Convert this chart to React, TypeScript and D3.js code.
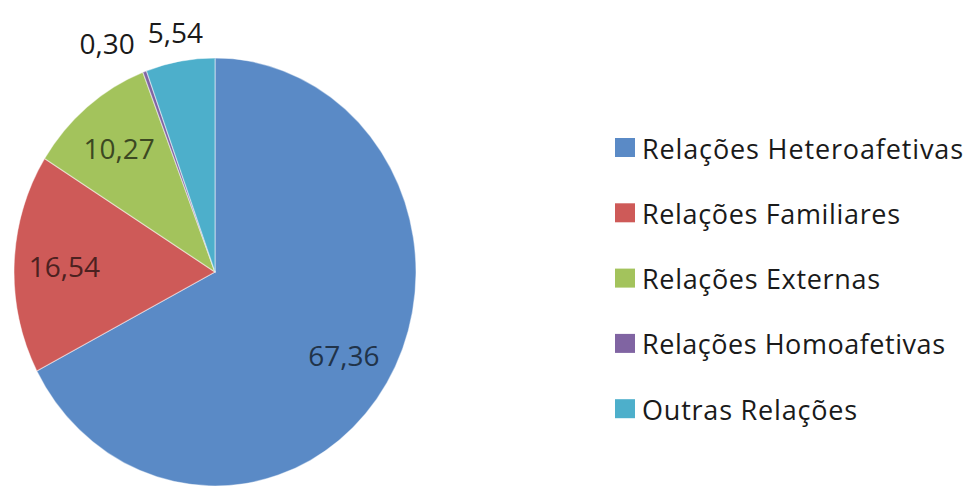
import React from "react";
import * as d3 from "d3";

// Distribution of relationship types (%)
const categories = [
  "Relações Heteroafetivas",
  "Relações Familiares",
  "Relações Externas",
  "Relações Homoafetivas",
  "Outras Relações",
];
const values = [67.36, 16.54, 10.27, 0.3, 5.54];
const valueLabels = ["67,36", "16,54", "10,27", "0,30", "5,54"];
const colors = ["#5A8AC6", "#CE5A58", "#A3C35C", "#8064A2", "#4DAFCB"];

const W = 967;
const H = 489;
const cx = 215;
const cy = 272;
const rx = 201;
const ry = 214;

const legendX = 615;
const legendY0 = 148;
const legendStep = 65.3;
const legendWidths = [321, 258, 238, 303, 215];

export default function App() {
  const pie = d3
    .pie<number>()
    .sort(null)
    .value((d) => d);
  const arcs = pie(values);
  const arc = d3.arc<d3.PieArcDatum<number>>().innerRadius(0).outerRadius(ry);
  const sx = rx / ry;

  const labelPos = (a: d3.PieArcDatum<number>, i: number) => {
    const mid = (a.startAngle + a.endAngle) / 2;
    const pct = values[i];
    const inside = pct >= 8;
    const r = inside ? 0.75 : 1.14;
    const x = cx + rx * r * Math.sin(mid);
    const y = cy - ry * r * Math.cos(mid);
    const anchor = !inside && pct < 2 ? "end" : "middle";
    return { x, y, anchor, inside };
  };

  return (
    <svg
      width={W}
      height={H}
      style={{ position: "absolute", left: 0, top: 0, background: "#fff" }}
      fontFamily="'Open Sans', 'Liberation Sans', sans-serif"
    >
      <g transform={`translate(${cx},${cy}) scale(${sx},1)`}>
        {arcs.map((a, i) => (
          <path
            key={i}
            d={arc(a) || ""}
            fill={colors[i]}
            stroke="#ffffff"
            strokeOpacity={0.45}
            strokeWidth={1.2}
            vectorEffect="non-scaling-stroke"
          />
        ))}
      </g>
      {arcs.map((a, i) => {
        const p = labelPos(a, i);
        const fill = p.inside
          ? d3.color(colors[i])!.darker(2.8).formatHex()
          : "#1a1a1a";
        return (
          <text
            key={i}
            x={p.x}
            y={p.y}
            textAnchor={p.anchor}
            dominantBaseline="central"
            fontSize={28}
            fill={fill}
          >
            {valueLabels[i]}
          </text>
        );
      })}
      {categories.map((c, i) => {
        const y = legendY0 + i * legendStep;
        return (
          <g key={c}>
            <rect x={legendX} y={y - 10} width={20} height={19} fill={colors[i]} />
            <text
              x={legendX + 27}
              y={y}
              dominantBaseline="central"
              fontSize={27}
              fill="#1a1a1a"
              textLength={legendWidths[i]}
              lengthAdjust="spacing"
            >
              {c}
            </text>
          </g>
        );
      })}
    </svg>
  );
}
